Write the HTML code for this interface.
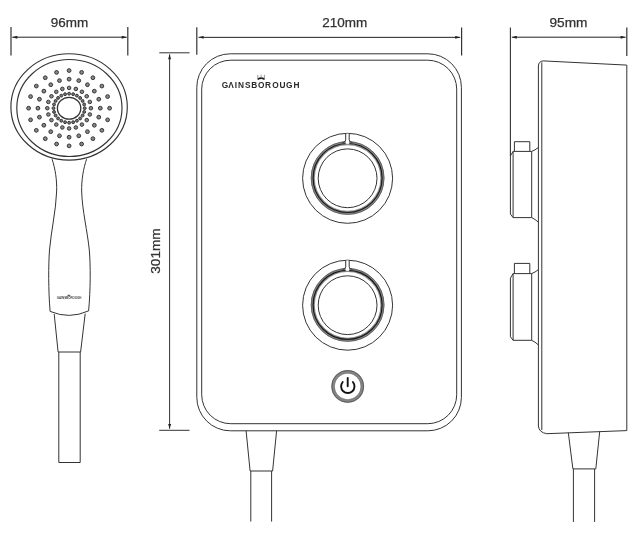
<!DOCTYPE html>
<html><head><meta charset="utf-8"><style>
html,body{margin:0;padding:0;background:#fff;}
body{width:643px;height:537px;overflow:hidden;}
svg{display:block;filter:grayscale(1);}
text{font-family:"Liberation Sans",sans-serif;}
</style></head><body>
<svg width="643" height="537" viewBox="0 0 643 537">
<defs>
<marker id="ar" viewBox="0 0 10 6" refX="10" refY="3" markerWidth="5.5" markerHeight="3" orient="auto-start-reverse" markerUnits="userSpaceOnUse"><path d="M0,0 L10,3 L0,6 z" fill="#222"/></marker>
</defs>
<g fill="none" stroke="#333" stroke-width="1">
<!-- 96mm -->
<line x1="11" y1="27" x2="11" y2="55.5" stroke-width="1.2"/>
<line x1="127.8" y1="27" x2="127.8" y2="55.5" stroke-width="1.2"/>
<line x1="12.3" y1="37.2" x2="126.7" y2="37.2" stroke="#222" marker-start="url(#ar)" marker-end="url(#ar)"/>
<!-- 210mm -->
<line x1="196.8" y1="27.2" x2="196.8" y2="54.8" stroke-width="1.2"/>
<line x1="461.6" y1="27.4" x2="461.6" y2="55.4" stroke-width="1.2"/>
<line x1="198.6" y1="37.35" x2="460.2" y2="37.35" stroke="#222" marker-start="url(#ar)" marker-end="url(#ar)"/>
<!-- 95mm -->
<line x1="510.4" y1="27.4" x2="510.4" y2="156" stroke-width="1.1"/>
<line x1="626.8" y1="27.4" x2="626.8" y2="55.9" stroke-width="1.2"/>
<line x1="511.8" y1="37.2" x2="625.6" y2="37.2" stroke="#222" marker-start="url(#ar)" marker-end="url(#ar)"/>
<!-- 301mm -->
<line x1="159.3" y1="52.8" x2="189.6" y2="52.8"/>
<line x1="159.2" y1="430.3" x2="189.5" y2="430.3"/>
<line x1="169.6" y1="54.3" x2="169.6" y2="428.8" marker-start="url(#ar)" marker-end="url(#ar)"/>
</g>
<g fill="#333" font-size="12.6" stroke="#333" stroke-width="0.25">
<text x="50.7" y="27.2" textLength="37.5" lengthAdjust="spacingAndGlyphs">96mm</text>
<text x="322.2" y="26.8" textLength="45" lengthAdjust="spacingAndGlyphs">210mm</text>
<text x="549.5" y="26.9" textLength="38" lengthAdjust="spacingAndGlyphs">95mm</text>
<text transform="translate(160.4,273.7) rotate(-90)" x="0" y="0" textLength="45.3" lengthAdjust="spacingAndGlyphs">301mm</text>
</g>

<!-- ===== shower head ===== -->
<g fill="none" stroke="#333" stroke-width="1">
<ellipse cx="69.1" cy="106.9" rx="58.2" ry="53.15" stroke-width="1.15"/>
<ellipse cx="69.4" cy="108" rx="52.6" ry="48.5" stroke-width="1.15"/>
<ellipse cx="69.1" cy="108.2" rx="11.7" ry="10.9" stroke-width="1.3"/>
<path d="M52.1,159.2 C55,168 57.2,180 56.6,192 C56,210 51,232 49.5,250 C48.4,265 48.3,290 50.1,311.4"/>
<path d="M86.6,159.2 C83.5,168 81.3,180 81.7,192 C82.2,210 87.5,232 89.3,250 C90.6,265 90.6,290 88.6,310.9"/>
<path d="M50.1,311.4 Q69.3,319.6 88.6,310.9"/>
<path d="M54.2,314 L58.1,352 L80.6,352 L85.2,313.6"/>
<path d="M58.8,352 L58.8,462.5 L80.2,462.5 L80.2,352"/>
</g>
<g>
<circle cx="69.10" cy="70.53" r="1.9" fill="#888" stroke="#2a2a2a" stroke-width="0.9"/><circle cx="81.62" cy="72.38" r="1.9" fill="#888" stroke="#2a2a2a" stroke-width="0.9"/><circle cx="92.91" cy="77.73" r="1.9" fill="#888" stroke="#2a2a2a" stroke-width="0.9"/><circle cx="101.87" cy="86.06" r="1.9" fill="#888" stroke="#2a2a2a" stroke-width="0.9"/><circle cx="107.62" cy="96.56" r="1.9" fill="#888" stroke="#2a2a2a" stroke-width="0.9"/><circle cx="109.60" cy="108.20" r="1.9" fill="#888" stroke="#2a2a2a" stroke-width="0.9"/><circle cx="107.62" cy="119.84" r="1.9" fill="#888" stroke="#2a2a2a" stroke-width="0.9"/><circle cx="101.87" cy="130.34" r="1.9" fill="#888" stroke="#2a2a2a" stroke-width="0.9"/><circle cx="92.91" cy="138.67" r="1.9" fill="#888" stroke="#2a2a2a" stroke-width="0.9"/><circle cx="81.62" cy="144.02" r="1.9" fill="#888" stroke="#2a2a2a" stroke-width="0.9"/><circle cx="69.10" cy="145.87" r="1.9" fill="#888" stroke="#2a2a2a" stroke-width="0.9"/><circle cx="56.58" cy="144.02" r="1.9" fill="#888" stroke="#2a2a2a" stroke-width="0.9"/><circle cx="45.29" cy="138.67" r="1.9" fill="#888" stroke="#2a2a2a" stroke-width="0.9"/><circle cx="36.33" cy="130.34" r="1.9" fill="#888" stroke="#2a2a2a" stroke-width="0.9"/><circle cx="30.58" cy="119.84" r="1.9" fill="#888" stroke="#2a2a2a" stroke-width="0.9"/><circle cx="28.60" cy="108.20" r="1.9" fill="#888" stroke="#2a2a2a" stroke-width="0.9"/><circle cx="30.58" cy="96.56" r="1.9" fill="#888" stroke="#2a2a2a" stroke-width="0.9"/><circle cx="36.33" cy="86.06" r="1.9" fill="#888" stroke="#2a2a2a" stroke-width="0.9"/><circle cx="45.29" cy="77.73" r="1.9" fill="#888" stroke="#2a2a2a" stroke-width="0.9"/><circle cx="56.58" cy="72.38" r="1.9" fill="#888" stroke="#2a2a2a" stroke-width="0.9"/><circle cx="69.10" cy="79.18" r="1.9" fill="#888" stroke="#2a2a2a" stroke-width="0.9"/><circle cx="78.74" cy="80.60" r="1.9" fill="#888" stroke="#2a2a2a" stroke-width="0.9"/><circle cx="87.44" cy="84.73" r="1.9" fill="#888" stroke="#2a2a2a" stroke-width="0.9"/><circle cx="94.34" cy="91.14" r="1.9" fill="#888" stroke="#2a2a2a" stroke-width="0.9"/><circle cx="98.77" cy="99.23" r="1.9" fill="#888" stroke="#2a2a2a" stroke-width="0.9"/><circle cx="100.30" cy="108.20" r="1.9" fill="#888" stroke="#2a2a2a" stroke-width="0.9"/><circle cx="98.77" cy="117.17" r="1.9" fill="#888" stroke="#2a2a2a" stroke-width="0.9"/><circle cx="94.34" cy="125.26" r="1.9" fill="#888" stroke="#2a2a2a" stroke-width="0.9"/><circle cx="87.44" cy="131.67" r="1.9" fill="#888" stroke="#2a2a2a" stroke-width="0.9"/><circle cx="78.74" cy="135.80" r="1.9" fill="#888" stroke="#2a2a2a" stroke-width="0.9"/><circle cx="69.10" cy="137.22" r="1.9" fill="#888" stroke="#2a2a2a" stroke-width="0.9"/><circle cx="59.46" cy="135.80" r="1.9" fill="#888" stroke="#2a2a2a" stroke-width="0.9"/><circle cx="50.76" cy="131.67" r="1.9" fill="#888" stroke="#2a2a2a" stroke-width="0.9"/><circle cx="43.86" cy="125.26" r="1.9" fill="#888" stroke="#2a2a2a" stroke-width="0.9"/><circle cx="39.43" cy="117.17" r="1.9" fill="#888" stroke="#2a2a2a" stroke-width="0.9"/><circle cx="37.90" cy="108.20" r="1.9" fill="#888" stroke="#2a2a2a" stroke-width="0.9"/><circle cx="39.43" cy="99.23" r="1.9" fill="#888" stroke="#2a2a2a" stroke-width="0.9"/><circle cx="43.86" cy="91.14" r="1.9" fill="#888" stroke="#2a2a2a" stroke-width="0.9"/><circle cx="50.76" cy="84.73" r="1.9" fill="#888" stroke="#2a2a2a" stroke-width="0.9"/><circle cx="59.46" cy="80.60" r="1.9" fill="#888" stroke="#2a2a2a" stroke-width="0.9"/><circle cx="69.10" cy="87.93" r="1.8" fill="#888" stroke="#2a2a2a" stroke-width="0.9"/><circle cx="75.84" cy="88.92" r="1.8" fill="#888" stroke="#2a2a2a" stroke-width="0.9"/><circle cx="81.91" cy="91.80" r="1.8" fill="#888" stroke="#2a2a2a" stroke-width="0.9"/><circle cx="86.74" cy="96.28" r="1.8" fill="#888" stroke="#2a2a2a" stroke-width="0.9"/><circle cx="89.83" cy="101.93" r="1.8" fill="#888" stroke="#2a2a2a" stroke-width="0.9"/><circle cx="90.90" cy="108.20" r="1.8" fill="#888" stroke="#2a2a2a" stroke-width="0.9"/><circle cx="89.83" cy="114.47" r="1.8" fill="#888" stroke="#2a2a2a" stroke-width="0.9"/><circle cx="86.74" cy="120.12" r="1.8" fill="#888" stroke="#2a2a2a" stroke-width="0.9"/><circle cx="81.91" cy="124.60" r="1.8" fill="#888" stroke="#2a2a2a" stroke-width="0.9"/><circle cx="75.84" cy="127.48" r="1.8" fill="#888" stroke="#2a2a2a" stroke-width="0.9"/><circle cx="69.10" cy="128.47" r="1.8" fill="#888" stroke="#2a2a2a" stroke-width="0.9"/><circle cx="62.36" cy="127.48" r="1.8" fill="#888" stroke="#2a2a2a" stroke-width="0.9"/><circle cx="56.29" cy="124.60" r="1.8" fill="#888" stroke="#2a2a2a" stroke-width="0.9"/><circle cx="51.46" cy="120.12" r="1.8" fill="#888" stroke="#2a2a2a" stroke-width="0.9"/><circle cx="48.37" cy="114.47" r="1.8" fill="#888" stroke="#2a2a2a" stroke-width="0.9"/><circle cx="47.30" cy="108.20" r="1.8" fill="#888" stroke="#2a2a2a" stroke-width="0.9"/><circle cx="48.37" cy="101.93" r="1.8" fill="#888" stroke="#2a2a2a" stroke-width="0.9"/><circle cx="51.46" cy="96.28" r="1.8" fill="#888" stroke="#2a2a2a" stroke-width="0.9"/><circle cx="56.29" cy="91.80" r="1.8" fill="#888" stroke="#2a2a2a" stroke-width="0.9"/><circle cx="62.36" cy="88.92" r="1.8" fill="#888" stroke="#2a2a2a" stroke-width="0.9"/><circle cx="69.10" cy="93.69" r="1.45" fill="#777" stroke="#2a2a2a" stroke-width="0.9"/><circle cx="73.14" cy="94.19" r="1.45" fill="#777" stroke="#2a2a2a" stroke-width="0.9"/><circle cx="76.90" cy="95.64" r="1.45" fill="#777" stroke="#2a2a2a" stroke-width="0.9"/><circle cx="80.13" cy="97.94" r="1.45" fill="#777" stroke="#2a2a2a" stroke-width="0.9"/><circle cx="82.61" cy="100.95" r="1.45" fill="#777" stroke="#2a2a2a" stroke-width="0.9"/><circle cx="84.17" cy="104.45" r="1.45" fill="#777" stroke="#2a2a2a" stroke-width="0.9"/><circle cx="84.70" cy="108.20" r="1.45" fill="#777" stroke="#2a2a2a" stroke-width="0.9"/><circle cx="84.17" cy="111.95" r="1.45" fill="#777" stroke="#2a2a2a" stroke-width="0.9"/><circle cx="82.61" cy="115.45" r="1.45" fill="#777" stroke="#2a2a2a" stroke-width="0.9"/><circle cx="80.13" cy="118.46" r="1.45" fill="#777" stroke="#2a2a2a" stroke-width="0.9"/><circle cx="76.90" cy="120.76" r="1.45" fill="#777" stroke="#2a2a2a" stroke-width="0.9"/><circle cx="73.14" cy="122.21" r="1.45" fill="#777" stroke="#2a2a2a" stroke-width="0.9"/><circle cx="69.10" cy="122.71" r="1.45" fill="#777" stroke="#2a2a2a" stroke-width="0.9"/><circle cx="65.06" cy="122.21" r="1.45" fill="#777" stroke="#2a2a2a" stroke-width="0.9"/><circle cx="61.30" cy="120.76" r="1.45" fill="#777" stroke="#2a2a2a" stroke-width="0.9"/><circle cx="58.07" cy="118.46" r="1.45" fill="#777" stroke="#2a2a2a" stroke-width="0.9"/><circle cx="55.59" cy="115.45" r="1.45" fill="#777" stroke="#2a2a2a" stroke-width="0.9"/><circle cx="54.03" cy="111.95" r="1.45" fill="#777" stroke="#2a2a2a" stroke-width="0.9"/><circle cx="53.50" cy="108.20" r="1.45" fill="#777" stroke="#2a2a2a" stroke-width="0.9"/><circle cx="54.03" cy="104.45" r="1.45" fill="#777" stroke="#2a2a2a" stroke-width="0.9"/><circle cx="55.59" cy="100.95" r="1.45" fill="#777" stroke="#2a2a2a" stroke-width="0.9"/><circle cx="58.07" cy="97.94" r="1.45" fill="#777" stroke="#2a2a2a" stroke-width="0.9"/><circle cx="61.30" cy="95.64" r="1.45" fill="#777" stroke="#2a2a2a" stroke-width="0.9"/><circle cx="65.06" cy="94.19" r="1.45" fill="#777" stroke="#2a2a2a" stroke-width="0.9"/>
</g>
<text x="56.8" y="299" font-size="2.8" fill="#444" font-weight="bold" textLength="24.6" lengthAdjust="spacingAndGlyphs">GAINSBOROUGH</text>
<path d="M67.6,296.2 L70.2,296.2 L70.4,294.6 L69.6,295.3 L68.9,294.2 L68.2,295.3 L67.4,294.6 Z" fill="#555"/>

<!-- ===== main unit ===== -->
<g fill="none" stroke="#333" stroke-width="1">
<rect x="196.8" y="53.8" width="264.6" height="377" rx="33.5" ry="33.5"/>
<rect x="201.7" y="60.2" width="255" height="363.5" rx="29" ry="29"/>
<path d="M246.1,430.8 L250.1,471 L272.6,471 L276.6,430.8"/>
<path d="M250.8,471 L250.8,521.6 M271.6,471 L271.6,521.6"/>
</g>
<g fill="none">
<circle cx="347.6" cy="178.3" r="45" stroke="#333" stroke-width="1"/>
<circle cx="347.6" cy="178.0" r="34.8" stroke="#8a8a8a" stroke-width="4.0"/>
<circle cx="347.6" cy="178.0" r="36.4" stroke="#555" stroke-width="0.8"/>
<circle cx="347.6" cy="178.0" r="34.5" stroke="#1a1a1a" stroke-width="1.2"/>
<circle cx="347.6" cy="178.3" r="29.4" stroke="#333" stroke-width="1"/>
<rect x="345.70000000000005" y="133.70000000000002" width="3.5" height="10.4" fill="#fff" stroke="none"/>
<path d="M345.70000000000005,133.60000000000002 L345.70000000000005,139.9 Q345.70000000000005,141.9 342.40000000000003,142.60000000000002 M349.20000000000005,133.60000000000002 L349.20000000000005,139.9 Q349.20000000000005,141.9 352.5,142.60000000000002" stroke="#333" stroke-width="1"/>
<path d="M345.6,144.10000000000002 L349.3,144.10000000000002" stroke="#999" stroke-width="0.6"/>
</g>
<g fill="none">
<circle cx="347.6" cy="305.2" r="45" stroke="#333" stroke-width="1"/>
<circle cx="347.6" cy="304.9" r="34.8" stroke="#8a8a8a" stroke-width="4.0"/>
<circle cx="347.6" cy="304.9" r="36.4" stroke="#555" stroke-width="0.8"/>
<circle cx="347.6" cy="304.9" r="34.5" stroke="#1a1a1a" stroke-width="1.2"/>
<circle cx="347.6" cy="305.2" r="29.4" stroke="#333" stroke-width="1"/>
<rect x="345.70000000000005" y="260.59999999999997" width="3.5" height="10.4" fill="#fff" stroke="none"/>
<path d="M345.70000000000005,260.5 L345.70000000000005,266.8 Q345.70000000000005,268.8 342.40000000000003,269.5 M349.20000000000005,260.5 L349.20000000000005,266.8 Q349.20000000000005,268.8 352.5,269.5" stroke="#333" stroke-width="1"/>
<path d="M345.6,271.0 L349.3,271.0" stroke="#999" stroke-width="0.6"/>
</g>
<g fill="none">
<circle cx="347.7" cy="386.4" r="14.7" stroke="#858585" stroke-width="3.4"/>
<circle cx="347.7" cy="386.4" r="15.9" stroke="#555" stroke-width="0.8"/>
<circle cx="347.7" cy="386.4" r="13.4" stroke="#777" stroke-width="0.6"/>
<path d="M342.7,382 A6.7,6.7 0 1 0 352.9,382" stroke="#111" stroke-width="1.9" stroke-linecap="round"/>
<line x1="347.7" y1="378" x2="347.7" y2="386.2" stroke="#111" stroke-width="1.9" stroke-linecap="round"/>
</g>
<text x="221.66 228.33 234.7 238.1 245.08 251.21 257.93 265.01 272.28 279.6 286.11 293.46" y="88.1" font-size="8.3" font-weight="bold" fill="#2a2a2a">GΛINSBOROUGH</text>
<path d="M257.6,79.4 Q261.1,76.9 264.6,79.4" fill="none" stroke="#1a1a1a" stroke-width="1.7"/>
<path d="M257.8,74.9 L257.8,78.4 M261.1,74.6 L261.1,77.6 M264.4,74.9 L264.4,78.4" stroke="#999" stroke-width="1"/>
<g fill="none" stroke="#333" stroke-width="1">
<path d="M538.4,426 L538.4,66 Q538.6,61.4 543.1,60.9 L626.8,65.1 L626.8,430.6 L546.8,433.7 Q539,432.5 538.4,426"/>
<path d="M541.8,62.4 L541.8,430"/>
<path d="M510.4,155.9 L513.1,151.4 L531.7,151.4 L531.7,217.6 L513.1,217.6 L510.4,214.1 Z"/>
<path d="M513.1,151.4 L513.1,217.6"/>
<path d="M514.4,151.4 L514.4,141.7 L529.8,141.7 L529.8,151.4"/>
<path d="M531.7,151.4 Q535,150.20000000000002 538.4,147.4"/>
<path d="M531.7,217.6 Q535,219.1 538.4,222.2"/>
<path d="M510.4,278.1 L513.1,273.6 L531.7,273.6 L531.7,340.3 L513.1,340.3 L510.4,336.8 Z"/>
<path d="M513.1,273.6 L513.1,340.3"/>
<path d="M514.4,273.6 L514.4,263.4 L529.8,263.4 L529.8,273.6"/>
<path d="M531.7,273.6 Q535,272.40000000000003 538.4,269.6"/>
<path d="M531.7,340.3 Q535,341.8 538.4,344.90000000000003"/>
<path d="M568.3,432.6 L572.9,468.9 L595.8,468.9 L599.7,431.5"/>
<path d="M573.4,468.9 L573.4,522 M594.6,468.9 L594.6,522"/>
</g>
</svg>
</body></html>
